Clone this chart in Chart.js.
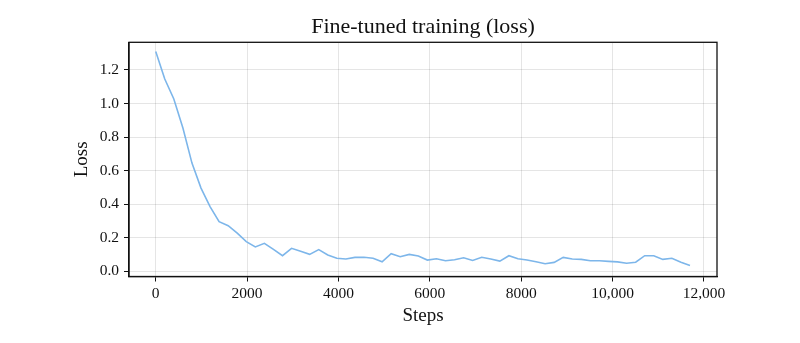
<!DOCTYPE html>
<html>
    <head>
        <title>Fine-tuned training (loss)</title>
        <script src="https://cdn.jsdelivr.net/npm/chart.js@4.4.1/dist/chart.umd.min.js"></script>
        <style>
            body { margin: 0; background: #fff; }
        </style>
    </head>
    <body>
        <canvas id="lossChart" width="800" height="343"></canvas>

        <script>
            //Training steps (x values)
            const steps = [0, 198, 396, 595, 793, 991, 1189, 1387, 1586, 1784,
                1982, 2180, 2378, 2577, 2775, 2973, 3171, 3369, 3568, 3766,
                3964, 4162, 4360, 4559, 4757, 4955, 5153, 5351, 5550, 5748,
                5946, 6144, 6342, 6541, 6739, 6937, 7135, 7333, 7532, 7730,
                7928, 8126, 8324, 8523, 8721, 8919, 9117, 9315, 9514, 9712,
                9910, 10108, 10306, 10505, 10703, 10901, 11099, 11297, 11496, 11694];

            //Loss values
            const loss = [1.31, 1.146, 1.027, 0.854, 0.645, 0.496, 0.386, 0.296, 0.272, 0.227,
                0.177, 0.145, 0.167, 0.131, 0.093, 0.137, 0.119, 0.101, 0.129, 0.097,
                0.078, 0.073, 0.083, 0.084, 0.078, 0.057, 0.105, 0.087, 0.101, 0.091,
                0.067, 0.075, 0.063, 0.069, 0.081, 0.065, 0.084, 0.073, 0.061, 0.093,
                0.075, 0.067, 0.057, 0.045, 0.053, 0.083, 0.073, 0.071, 0.063, 0.063,
                0.059, 0.056, 0.048, 0.054, 0.093, 0.093, 0.071, 0.078, 0.054, 0.034];

            //Tick values and labels
            const xTicks = [0, 2000, 4000, 6000, 8000, 10000, 12000];
            const xTickLabels = ["0", "2000", "4000", "6000", "8000", "10,000", "12,000"];
            const yTicks = [0, 0.2, 0.4, 0.6, 0.8, 1.0, 1.2];
            const yTickLabels = ["0.0", "0.2", "0.4", "0.6", "0.8", "1.0", "1.2"];

            const chartTitle = "Fine-tuned training (loss)";
            const serif = "'Liberation Serif', 'DejaVu Serif', serif";
            const gridColor = "rgba(0,0,0,0.1)";

            //Draws the frame round the plot and the title centred over it
            const framePlugin = {
                id: "frame",
                afterDraw(chart) {
                    const a = chart.chartArea;
                    const ctx = chart.ctx;
                    ctx.save();
                    ctx.strokeStyle = "#111";
                    ctx.lineWidth = 1.3;
                    ctx.strokeRect(a.left, a.top, a.right - a.left, a.bottom - a.top);

                    ctx.fillStyle = "#111";
                    ctx.font = "22px " + serif;
                    ctx.textAlign = "center";
                    ctx.textBaseline = "alphabetic";
                    ctx.fillText(chartTitle, (a.left + a.right) / 2, 33);
                    ctx.restore();
                }
            };

            const data = {
                datasets: [{
                    label: "Loss",
                    data: steps.map((s, i) => ({ x: s, y: loss[i] })),
                    borderColor: "#7db6ea",
                    borderWidth: 1.6,
                    pointRadius: 0,
                    tension: 0,
                    fill: false
                }]
            };

            const config = {
                type: "line",
                data: data,
                plugins: [framePlugin],
                options: {
                    responsive: false,
                    animation: false,
                    layout: { padding: { left: 0, right: 83, top: 42.3, bottom: 0 } },
                    plugins: {
                        legend: { display: false },
                        tooltip: { enabled: false },
                        title: { display: false }
                    },
                    scales: {
                        x: {
                            type: "linear",
                            min: -585,
                            max: 12285,
                            afterBuildTicks: (axis) => { axis.ticks = xTicks.map(v => ({ value: v })); },
                            afterFit: (axis) => { axis.height = 66.5; },
                            ticks: {
                                color: "#111",
                                font: { family: serif, size: 15.5 },
                                padding: 3,
                                maxRotation: 0,
                                callback: (value, index) => xTickLabels[index]
                            },
                            grid: { color: gridColor, tickColor: "#111", tickLength: 5 },
                            border: { display: true, color: "#111", width: 1.3 },
                            title: {
                                display: true,
                                text: "Steps",
                                color: "#111",
                                font: { family: serif, size: 19 },
                                padding: { top: 0, bottom: 16 }
                            }
                        },
                        y: {
                            type: "linear",
                            min: -0.031,
                            max: 1.365,
                            afterBuildTicks: (axis) => { axis.ticks = yTicks.map(v => ({ value: v })); },
                            afterFit: (axis) => { axis.width = 129; },
                            ticks: {
                                color: "#111",
                                font: { family: serif, size: 15.5 },
                                padding: 5,
                                callback: (value, index) => yTickLabels[index]
                            },
                            grid: { color: gridColor, tickColor: "#111", tickLength: 5 },
                            border: { display: true, color: "#111", width: 1.3 },
                            title: {
                                display: true,
                                text: "Loss",
                                color: "#111",
                                font: { family: serif, size: 19 },
                                padding: { top: 71, bottom: 0 }
                            }
                        }
                    }
                }
            };

            new Chart(document.getElementById("lossChart"), config);
        </script>
    </body>
</html>
